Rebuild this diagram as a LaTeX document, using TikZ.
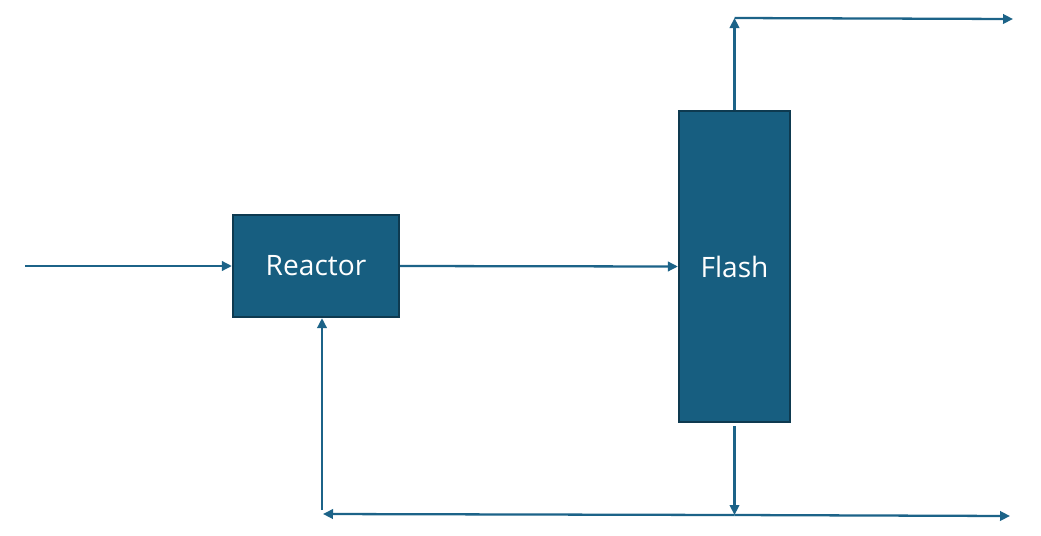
\documentclass[tikz,border=0pt]{standalone}
\usepackage{fontspec}
\setmainfont{Open Sans}
\usepackage{tikz}
\usetikzlibrary{positioning,arrows.meta}
\definecolor{unitfill}{HTML}{175E80}
\definecolor{unitedge}{HTML}{0E3A50}
\definecolor{streamcol}{HTML}{1C6388}

\begin{document}
\begin{tikzpicture}[x=0.02cm,y=-0.02cm]
\tikzstyle{unit}=[draw=unitedge,fill=unitfill,line width=1.3pt,text=white,font=\fontsize{16}{19}\selectfont,inner sep=0pt]
\tikzstyle{flow}=[draw=streamcol,line width=1.3pt,-{Triangle[length=2mm,width=1.9mm]}]
\useasboundingbox (0,0) rectangle (1041,535);
\node [unit,minimum width=3.32cm,minimum height=2.04cm] (reactor) at (316,266) {Reactor};
\node [unit,minimum width=2.22cm,minimum height=6.22cm] (flash) at (734.5,266.5) {Flash};
\coordinate (feed) at (25,266);
\coordinate (vap) at (734.5,18);
\coordinate (vapout) at (1013,19);
\coordinate (liq) at (734.5,515);
\coordinate (liqout) at (1010,516);
\coordinate (recleft) at (323,514);
\coordinate (rec) at (322,510);
\draw [flow] (feed) -- (reactor.west);
\draw [flow] (reactor.east) -- (flash.west);
\draw [flow] (flash.north) -- (vap);
\draw [flow] (vap) -- (vapout);
\draw [flow] ([yshift=-0.06cm]flash.south) -- (liq);
\draw [flow] (liq) -- (liqout);
\draw [flow] (liq) -- (recleft);
\draw [flow] (rec) -- (rec |- reactor.south);
\end{tikzpicture}
\end{document}
